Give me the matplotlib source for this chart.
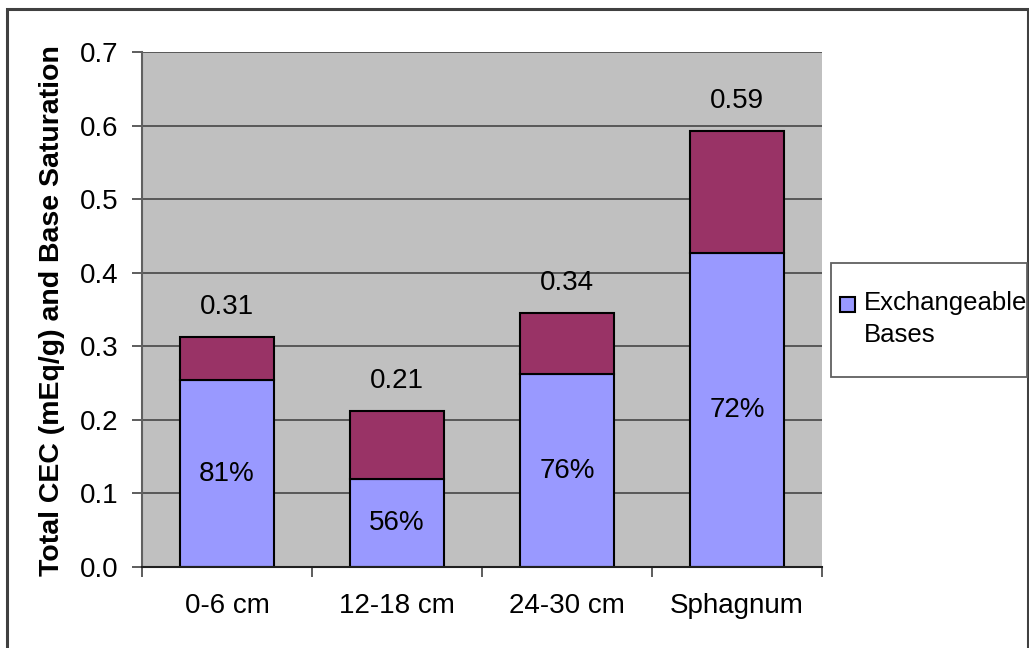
import matplotlib
matplotlib.use("Agg")
import matplotlib.pyplot as plt
from matplotlib.patches import Rectangle
import numpy as np

plt.rcParams['font.family'] = ['Liberation Sans', 'DejaVu Sans']

categories = ["0-6 cm", "12-18 cm", "24-30 cm", "Sphagnum"]
total_cec = [0.313, 0.212, 0.345, 0.593]
exch_bases = [0.254, 0.119, 0.262, 0.427]
total_labels = ["0.31", "0.21", "0.34", "0.59"]
pct_labels = ["81%", "56%", "76%", "72%"]
yticks = [0.0, 0.1, 0.2, 0.3, 0.4, 0.5, 0.6, 0.7]

FS = 20
W, H = 1029, 648
fig = plt.figure(figsize=(W / 100, H / 100), dpi=100)
ax = fig.add_axes([142 / W, (H - 567) / H, (822 - 142) / W, (567 - 52) / H])

blue = "#9999FF"
maroon = "#993366"
x = np.arange(len(categories))
other = [t - b for t, b in zip(total_cec, exch_bases)]
ax.set_facecolor("#C0C0C0")
ax.bar(x, exch_bases, width=0.555, color=blue, edgecolor="black", linewidth=1.5, zorder=3)
ax.bar(x, other, bottom=exch_bases, width=0.555, color=maroon, edgecolor="black", linewidth=1.5, zorder=3)

for xi, t, b, tl, pl in zip(x, total_cec, exch_bases, total_labels, pct_labels):
    ax.text(xi, t + 0.041, tl, ha="center", va="center", fontsize=FS, zorder=4)
    ax.text(xi, b / 2, pl, ha="center", va="center", fontsize=FS, zorder=4)

ax.set_xlim(-0.5, len(categories) - 0.5)
ax.set_ylim(0, 0.7)
ax.set_yticks(yticks)
ax.set_yticklabels([f"{v:.1f}" for v in yticks], fontsize=FS)
ax.yaxis.grid(True, color="#505050", linewidth=1.3, zorder=0)
ax.set_axisbelow(True)
ax.set_xticks(x)
ax.set_xticklabels(categories, fontsize=FS)
ax.tick_params(axis="x", length=0, pad=19)
ax.set_xticks(np.arange(-0.5, len(categories)), minor=True)
ax.tick_params(axis="x", which="minor", length=7, width=1.3, color="#505050")
ax.tick_params(axis="y", length=7, width=1.3, color="#505050", pad=10)
for s in ["top", "right"]:
    ax.spines[s].set_visible(False)
ax.spines["left"].set_color("#606060")
ax.spines["left"].set_linewidth(1.5)
ax.spines["bottom"].set_color("#202020")
ax.spines["bottom"].set_linewidth(1.5)
ax.spines["bottom"].set_zorder(5)
ax.set_ylabel("Total CEC (mEq/g) and Base Saturation", fontsize=20.5, fontweight="bold")
ax.yaxis.set_label_coords((65 - 142) / (822 - 142), (567 - 311) / (567 - 52))

# outer frame
fig.patches.append(Rectangle((7 / W, -0.05), (1028 - 7) / W, (H - 9) / H + 0.05,
                             transform=fig.transFigure, fill=False, edgecolor="#404040",
                             linewidth=2.2))
# legend box
fig.patches.append(Rectangle((831 / W, (H - 377) / H), (1027 - 831) / W, (377 - 263) / H,
                             transform=fig.transFigure, facecolor="white", edgecolor="#606060",
                             linewidth=1.3))
fig.patches.append(Rectangle((840 / W, (H - 312) / H), 15 / W, 15 / H,
                             transform=fig.transFigure, facecolor=blue, edgecolor="black",
                             linewidth=1.5))
fig.text(864 / W, (H - 303) / H, "Exchangeable", fontsize=18.5, va="center", ha="left")
fig.text(864 / W, (H - 335) / H, "Bases", fontsize=18.5, va="center", ha="left")

fig.savefig("out.png", dpi=100)
